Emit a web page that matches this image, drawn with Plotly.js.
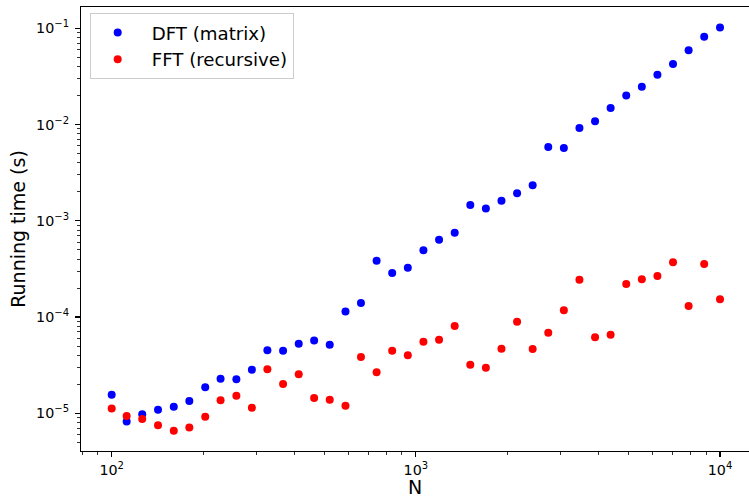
<!DOCTYPE html>
<html>
<head>
<meta charset="utf-8">
<script src="https://cdn.plot.ly/plotly-3.0.1.min.js"></script>
<style>
html, body { margin: 0; padding: 0; background: #ffffff; }
#chart { width: 749px; height: 498px; }
</style>
</head>
<body>
<div id="chart"></div>
<script>
// ---- data ----
const N = [100, 112, 126, 142, 160, 180, 203, 228, 257, 289,
           325, 366, 412, 463, 521, 587, 660, 743, 836, 941,
           1059, 1192, 1342, 1510, 1699, 1912, 2152, 2421, 2725, 3066,
           3450, 3883, 4369, 4917, 5533, 6226, 7006, 7884, 8872, 10000];

const dftTime = [1.56e-5, 8.2e-6, 9.8e-6, 1.09e-5, 1.17e-5, 1.34e-5, 1.86e-5, 2.29e-5, 2.26e-5, 2.84e-5,
                 4.52e-5, 4.47e-5, 5.29e-5, 5.71e-5, 5.16e-5, 1.14e-4, 1.40e-4, 3.85e-4, 2.87e-4, 3.26e-4,
                 4.94e-4, 6.37e-4, 7.52e-4, 1.46e-3, 1.34e-3, 1.62e-3, 1.93e-3, 2.34e-3, 5.85e-3, 5.71e-3,
                 9.20e-3, 1.08e-2, 1.49e-2, 2.00e-2, 2.47e-2, 3.30e-2, 4.26e-2, 5.91e-2, 8.18e-2, 1.02e-1];

const fftTime = [1.12e-5, 9.4e-6, 8.7e-6, 7.5e-6, 6.6e-6, 7.1e-6, 9.2e-6, 1.37e-5, 1.52e-5, 1.14e-5,
                 2.86e-5, 2.02e-5, 2.54e-5, 1.44e-5, 1.38e-5, 1.20e-5, 3.85e-5, 2.67e-5, 4.47e-5, 4.01e-5,
                 5.55e-5, 5.82e-5, 8.07e-5, 3.20e-5, 2.98e-5, 4.69e-5, 8.95e-5, 4.66e-5, 6.87e-5, 1.18e-4,
                 2.44e-4, 6.16e-5, 6.56e-5, 2.20e-4, 2.47e-4, 2.67e-4, 3.71e-4, 1.30e-4, 3.56e-4, 1.53e-4];

const seriesNames = ['DFT (matrix)', 'FFT (recursive)'];
const seriesColors = ['#0000ff', '#ff0000'];

const xTickVals = [100, 1000, 10000];
const xTickText = ['10<sup>2</sup>', '10<sup>3</sup>', '10<sup>4</sup>'];
const yTickVals = [1e-5, 1e-4, 1e-3, 1e-2, 1e-1];
const yTickText = ['10<sup>\u22125</sup>', '10<sup>\u22124</sup>', '10<sup>\u22123</sup>', '10<sup>\u22122</sup>', '10<sup>\u22121</sup>'];

const xTitle = 'N';
const yTitle = 'Running time (s)';

// minor ticks (2..9 x each decade)
function minorTicks(decades) {
  const out = [];
  decades.forEach(d => { for (let k = 2; k <= 9; k++) out.push(k * d); });
  return out;
}
const xMinor = minorTicks([10, 100, 1000, 10000]);
const yMinor = minorTicks([1e-6, 1e-5, 1e-4, 1e-3, 1e-2, 1e-1]);

const traces = [
  { x: N, y: dftTime, name: seriesNames[0], type: 'scatter', mode: 'markers',
    marker: { size: 8, color: seriesColors[0] } },
  { x: N, y: fftTime, name: seriesNames[1], type: 'scatter', mode: 'markers',
    marker: { size: 8, color: seriesColors[1] } }
];

const axisCommon = {
  type: 'log',
  tickmode: 'array',
  ticks: 'outside',
  ticklen: 5,
  tickwidth: 1.1,
  tickcolor: '#000000',
  showline: true,
  linecolor: '#000000',
  linewidth: 1.1,
  showgrid: false,
  zeroline: false,
  automargin: false,
  tickfont: { family: 'DejaVu Sans', size: 14.3, color: '#000000' }
};

const layout = {
  width: 749,
  height: 498,
  margin: { l: 81, r: 0, t: 7, b: 47, pad: 0 },
  paper_bgcolor: '#ffffff',
  plot_bgcolor: '#ffffff',
  font: { family: 'DejaVu Sans', color: '#000000', size: 14 },
  showlegend: true,
  legend: {
    x: 0.013, y: 0.9115, xanchor: 'left', yanchor: 'middle',
    bgcolor: 'rgba(255,255,255,0.8)',
    bordercolor: '#cccccc', borderwidth: 1,
    font: { family: 'DejaVu Sans', size: 18.2, color: '#000000' },
    itemwidth: 58,
    indentation: -7
  },
  xaxis: Object.assign({}, axisCommon, {
    range: [1.8991, 4.0953],
    tickvals: xTickVals,
    ticktext: xTickText,
    mirror: true,
    ticklabelstandoff: 1,
    title: { text: xTitle, font: { family: 'DejaVu Sans', size: 19, color: '#000000' }, standoff: 10 },
    minor: { tickmode: 'array', tickvals: xMinor, ticks: 'outside', ticklen: 3, tickwidth: 0.8, tickcolor: '#000000', showgrid: false }
  }),
  yaxis: Object.assign({}, axisCommon, {
    range: [-5.3917, -0.7787],
    tickvals: yTickVals,
    ticktext: yTickText,
    ticklabelstandoff: 3,
    title: { text: yTitle, font: { family: 'DejaVu Sans', size: 19, color: '#000000' }, standoff: 5 },
    minor: { tickmode: 'array', tickvals: yMinor, ticks: 'outside', ticklen: 3, tickwidth: 0.8, tickcolor: '#000000', showgrid: false }
  })
};

Plotly.newPlot('chart', traces, layout, { displayModeBar: false, staticPlot: true });
</script>
</body>
</html>
